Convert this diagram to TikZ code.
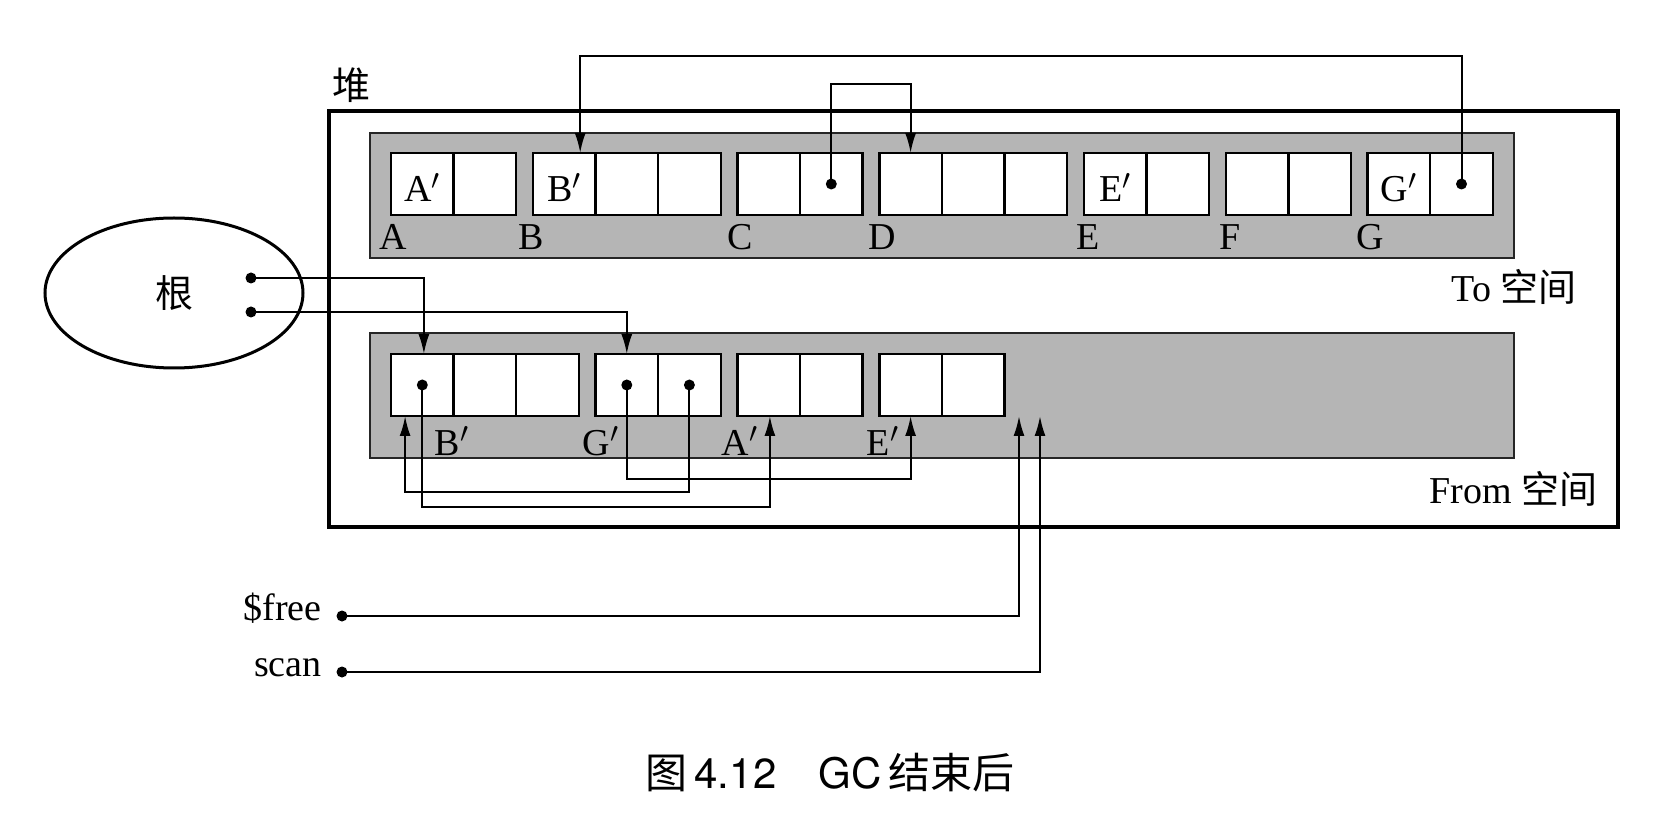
\documentclass[tikz,border=0pt]{standalone}
\usepackage{fontspec}
\setmainfont{Liberation Serif}
\newfontfamily\cjk{Noto Sans CJK SC}
\newfontfamily\capfont{TeX Gyre Heros}
\usetikzlibrary{shapes.geometric,arrows.meta}
\newcommand\lblfont{\fontsize{19}{21}\selectfont}
\newcommand\cjkfont{\cjk\fontsize{19}{22}\selectfont}
\begin{document}
\begin{tikzpicture}[x=0.5pt,y=-0.5pt,
  cell/.style={draw, line width=1.2pt, fill=white, minimum width=31.3pt, minimum height=31pt, inner sep=0pt, outer sep=0pt},
  ctext/.style={text height=18pt, text depth=0pt, font=\lblfont},
  lbl/.style={font=\lblfont, inner sep=0pt},
  conn/.style={line width=1pt},
  arr/.style={conn, -{Latex[length=10pt,width=5.5pt]}},
  dotn/.style={circle, fill=black, inner sep=0pt, minimum size=5.5pt},
  spacebox/.style={fill=black!29, draw=black!85, line width=1pt},
  heapbox/.style={draw=black, line width=2pt}]
\useasboundingbox (0,0) rectangle (1670,828);

% heap and spaces
\draw[heapbox] (329,111) rectangle (1618,527);
\draw[spacebox] (370,133) rectangle (1514,258);
\draw[spacebox] (370,333) rectangle (1514,458);

% To space cells
\node[cell,ctext] (tA1) at (422.3,184) {A$'$};
\node[cell] (tA2) at (484.9,184) {};
\node[cell,ctext] (tB1) at (564.2,184) {B$'$};
\node[cell] (tB2) at (626.8,184) {};
\node[cell] (tB3) at (689.4,184) {};
\node[cell] (tC1) at (768.7,184) {};
\node[cell] (tC2) at (831.3,184) {};
\node[cell] (tD1) at (910.6,184) {};
\node[cell] (tD2) at (973.2,184) {};
\node[cell] (tD3) at (1035.8,184) {};
\node[cell,ctext] (tE1) at (1115.1,184) {E$'$};
\node[cell] (tE2) at (1177.7,184) {};
\node[cell] (tF1) at (1257,184) {};
\node[cell] (tF2) at (1319.6,184) {};
\node[cell,ctext] (tG1) at (1398.9,184) {G$'$};
\node[cell] (tG2) at (1461.5,184) {};

% From space cells
\node[cell] (fB1) at (422.3,385) {};
\node[cell] (fB2) at (484.9,385) {};
\node[cell] (fB3) at (547.5,385) {};
\node[cell] (fG1) at (626.8,385) {};
\node[cell] (fG2) at (689.4,385) {};
\node[cell] (fA1) at (768.7,385) {};
\node[cell] (fA2) at (831.3,385) {};
\node[cell] (fE1) at (910.6,385) {};
\node[cell] (fE2) at (973.2,385) {};

% labels
\node[lbl,anchor=base] (lA) at (393,250) {A};
\node[lbl,anchor=base] (lB) at (531,250) {B};
\node[lbl,anchor=base] (lC) at (740,250) {C};
\node[lbl,anchor=base] (lD) at (882,250) {D};
\node[lbl,anchor=base] (lE) at (1088,250) {E};
\node[lbl,anchor=base] (lF) at (1230,250) {F};
\node[lbl,anchor=base] (lG) at (1370,250) {G};
\node[lbl,anchor=base] (lfB) at (452,455) {B$'$};
\node[lbl,anchor=base] (lfG) at (601,455) {G$'$};
\node[lbl,anchor=base] (lfA) at (740,455) {A$'$};
\node[lbl,anchor=base] (lfE) at (883,455) {E$'$};
\node[lbl,anchor=base east] (tol) at (1577,302) {To {\cjkfont 空间}};
\node[lbl,anchor=base east] (froml) at (1598,503) {From {\cjkfont 空间}};
\node[font=\cjkfont] (heapl) at (351,85) {堆};

% root
\node[ellipse, draw, line width=1.5pt, minimum width=129pt, minimum height=75pt, inner sep=0pt, font=\cjkfont] (root) at (174,293) {根};
\node[dotn] (r1) at (251,278) {};
\node[dotn] (r2) at (251,312) {};

% dots in cells
\node[dotn] (dC) at (tC2.center) {};
\node[dotn] (dG) at (tG2.center) {};
\node[dotn] (dfB1) at (fB1.center) {};
\node[dotn] (dfG1) at (fG1.center) {};
\node[dotn] (dfG2) at (fG2.center) {};

% free / scan
\node[lbl,anchor=mid east] (freel) at (322,616) {\$free};
\node[lbl,anchor=mid east] (scanl) at (322,672) {scan};
\node[dotn] (dfree) at (342,616) {};
\node[dotn] (dscan) at (342,672) {};

% helper coordinates
\coordinate (ytop) at (0,56);
\coordinate (ymid) at (0,84);
\coordinate (yl1) at (0,479);
\coordinate (yl2) at (0,492);
\coordinate (yl3) at (0,507);
\coordinate (freetip) at (1019,416);
\coordinate (scantip) at (1040,416);

% connectors
\draw[arr] (dG.center) -- (dG.center |- ytop) -| ([xshift=8pt]tB1.north);
\draw[arr] (dC.center) -- (dC.center |- ymid) -| (tD1.north);
\draw[arr] (r1.center) -| ([xshift=0.8pt]fB1.north);
\draw[arr] (r2.center) -| (fG1.north);
\draw[arr] (dfG1.center) -- (dfG1.center |- yl1) -| (fE1.south);
\draw[arr] (dfG2.center) -- (dfG2.center |- yl2) -| ([xshift=-8.6pt]fB1.south);
\draw[arr] (dfB1.center) -- (dfB1.center |- yl3) -| ([xshift=0.6pt]fA1.south);
\draw[arr] (dfree.center) -| (freetip);
\draw[arr] (dscan.center) -| (scantip);

% caption
\node[font=\capfont\fontsize{21}{24}\selectfont] (cap) at (830,773) {{\cjk 图}\,4.12\quad GC\,{\cjk 结束后}};
\end{tikzpicture}
\end{document}
